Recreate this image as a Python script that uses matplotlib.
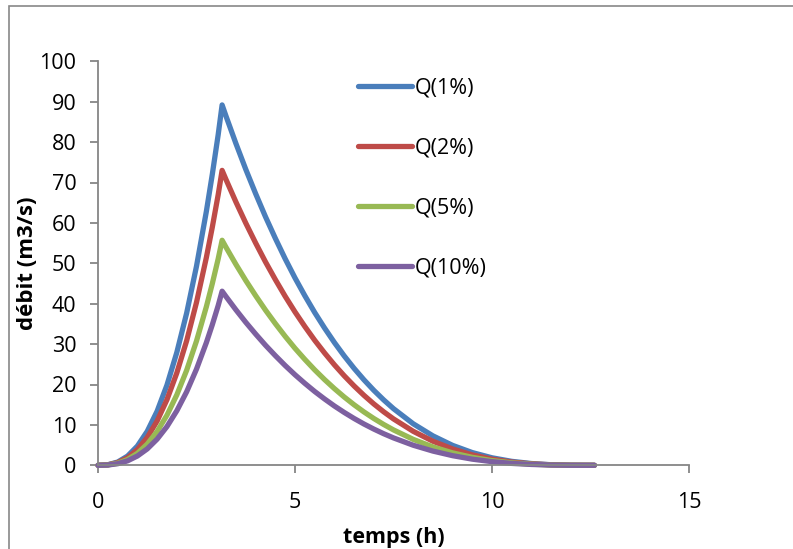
import matplotlib
matplotlib.use("Agg")
import matplotlib.pyplot as plt
from matplotlib.patches import Rectangle

plt.rcParams['font.family'] = ['Open Sans', 'DejaVu Sans']

# Flood hydrographs for several return frequencies
temps = [0, 0.25, 0.5, 0.75, 1.0, 1.25, 1.5, 1.75, 2.0, 2.25, 2.5, 2.75, 2.9, 3.05, 3.15,
         3.25, 3.5, 3.75, 4.0, 4.25, 4.5, 4.75, 5.0, 5.25, 5.5, 5.75, 6.0, 6.25, 6.5, 6.75,
         7.0, 7.25, 7.5, 8.0, 8.5, 9.0, 9.5, 10.0, 10.5, 11.0, 11.5, 12.0, 12.6]

q_1 = [0, 0.14, 0.81, 2.28, 4.76, 8.41, 13.38, 19.85, 27.92, 37.67, 49.28, 62.83, 71.95, 81.81,
       89.2, 86.40, 79.66, 73.27, 67.26, 61.54, 56.20, 51.13, 46.38, 41.97, 37.82, 33.98, 30.39,
       27.06, 23.99, 21.16, 18.56, 16.19, 14.02, 10.28, 7.29, 4.93, 3.15, 1.86, 0.98, 0.44,
       0.14, 0.03, 0]
q_2 = [0, 0.12, 0.66, 1.87, 3.90, 6.88, 10.95, 16.24, 22.85, 30.83, 40.33, 51.42, 58.88, 66.96,
       73.0, 70.71, 65.19, 59.96, 55.04, 50.36, 45.99, 41.84, 37.96, 34.35, 30.95, 27.81, 24.87,
       22.15, 19.64, 17.32, 15.19, 13.25, 11.48, 8.42, 5.96, 4.04, 2.58, 1.52, 0.80, 0.36,
       0.12, 0.02, 0]
q_5 = [0, 0.09, 0.51, 1.43, 2.97, 5.25, 8.36, 12.39, 17.43, 23.52, 30.77, 39.24, 44.93, 51.09,
       55.7, 53.95, 49.74, 45.75, 42.00, 38.43, 35.09, 31.93, 28.96, 26.21, 23.62, 21.22, 18.98,
       16.90, 14.98, 13.21, 11.59, 10.11, 8.76, 6.42, 4.55, 3.08, 1.97, 1.16, 0.61, 0.27,
       0.09, 0.02, 0]
q_10 = [0, 0.07, 0.39, 1.10, 2.30, 4.06, 6.47, 9.59, 13.49, 18.20, 23.81, 30.36, 34.76, 39.53,
        43.1, 41.75, 38.49, 35.40, 32.50, 29.73, 27.15, 24.70, 22.41, 20.28, 18.27, 16.42, 14.68,
        13.08, 11.59, 10.22, 8.97, 7.82, 6.78, 4.97, 3.52, 2.38, 1.52, 0.90, 0.47, 0.21,
        0.07, 0.01, 0]

series_labels = ["Q(1%)", "Q(2%)", "Q(5%)", "Q(10%)"]
series_colors = ["#4A7EBB", "#BE4B48", "#98B954", "#7D60A0"]

x_ticks = [0, 5, 10, 15]
y_ticks = [0, 10, 20, 30, 40, 50, 60, 70, 80, 90, 100]

W, H = 793, 549
fig = plt.figure(figsize=(W / 100, H / 100), dpi=100)
fig.patch.set_facecolor("white")

# chart-area border
fig.add_artist(Rectangle((8.5 / W, -0.1), 1.2, 1.1 - 5.5 / H,
                         transform=fig.transFigure, fill=False,
                         edgecolor="#888888", linewidth=1.2))

ax = fig.add_axes([98 / W, 1 - 465.3 / H, (689 - 98) / W, (465.3 - 61.3) / H])

for ys, lab, col in zip([q_1, q_2, q_5, q_10], series_labels, series_colors):
    ax.plot(temps, ys, color=col, linewidth=3.8, label=lab,
            solid_capstyle="round", solid_joinstyle="round", clip_on=False)

ax.set_xlim(0, 15)
ax.set_ylim(0, 100)
ax.set_xticks(x_ticks)
ax.set_yticks(y_ticks)

axis_gray = "#868686"
for side in ("top", "right"):
    ax.spines[side].set_visible(False)
for side in ("left", "bottom"):
    ax.spines[side].set_color(axis_gray)
    ax.spines[side].set_linewidth(1.3)

ax.tick_params(axis="both", colors=axis_gray, length=5.5, width=1.3,
               labelcolor="black", labelsize=15.5)
ax.tick_params(axis="y", pad=10)
ax.tick_params(axis="x", pad=14)

ax.set_xlabel("temps (h)", fontsize=15.5, fontweight="bold", labelpad=10)
ax.set_ylabel("débit (m3/s)", fontsize=16, fontweight="bold", labelpad=1)

ax.legend(loc="upper left", bbox_to_anchor=(0.425, 0.982), frameon=False,
          fontsize=15.5, handlelength=2.5, handletextpad=0.15,
          labelspacing=1.82, borderaxespad=0)

fig.savefig("out.png", dpi=100, facecolor="white")
